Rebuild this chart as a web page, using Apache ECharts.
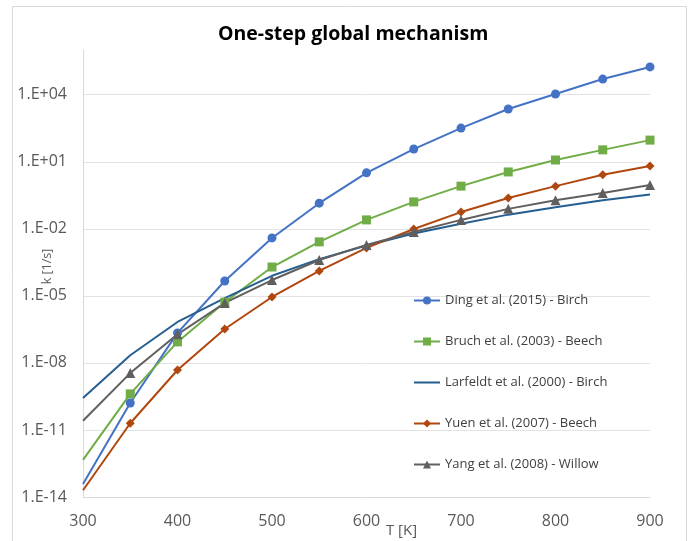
<!DOCTYPE html>
<html>
<head>
<meta charset="utf-8">
<script src="https://cdn.jsdelivr.net/npm/echarts@6/dist/echarts.min.js"></script>
<style>
html,body{margin:0;padding:0;background:#fff;}
#chart{width:692px;height:541px;}
</style>
</head>
<body>
<div id="chart"></div>
<script>
// Temperatures T [K]
var temps = [300, 350, 400, 450, 500, 550, 600, 650, 700, 750, 800, 850, 900];
// Rate constants k [1/s] (value at T=300 is where each curve enters the plot)
var ding     = [3.8e-14, 1.6e-10, 2.2e-7, 4.6e-5, 3.9e-3, 0.14, 3.2, 37, 320, 2300, 1.07e4, 5.0e4, 1.75e5];
var bruch    = [4.6e-13, 4.1e-10, 8.7e-8, 5.2e-6, 1.95e-4, 2.6e-3, 0.025, 0.16, 0.81, 3.5, 12, 34, 93];
var larfeldt = [2.7e-10, 2.2e-8, 6.8e-7, 7.9e-6, 7.9e-5, 4.4e-4, 1.8e-3, 6.2e-3, 0.017, 0.043, 0.093, 0.19, 0.34];
var yuen     = [2.0e-14, 2.0e-11, 4.8e-9, 3.3e-7, 8.9e-6, 1.3e-4, 1.4e-3, 9.8e-3, 0.056, 0.24, 0.81, 2.6, 6.5];
var yang     = [2.6e-11, 3.5e-9, 1.9e-7, 4.8e-6, 5.1e-5, 4.0e-4, 1.9e-3, 7.2e-3, 0.025, 0.078, 0.19, 0.40, 0.91];

var seriesNames = [
  'Ding et al. (2015) - Birch',
  'Bruch et al. (2003) - Beech',
  'Larfeldt et al. (2000) - Birch',
  'Yuen et al. (2007) - Beech',
  'Yang et al. (2008) - Willow'
];
var yTickExponents = [-14, -11, -8, -5, -2, 1, 4];

var FONT = '"Open Sans", sans-serif';

function pairs(vals) {
  return temps.map(function (t, i) {
    if (i === 0) return { value: [t, vals[i]], symbol: 'none' };
    return [t, vals[i]];
  });
}

function fmtExp(v) {
  var e = Math.round(Math.log10(v));
  if (yTickExponents.indexOf(e) < 0) return '';
  var s = e < 0 ? '-' : '+';
  var a = Math.abs(e);
  return '1.E' + s + (a < 10 ? '0' + a : '' + a);
}

var chart = echarts.init(document.getElementById('chart'), null, { renderer: 'canvas' });

function mk(name, vals, color, symbol, size) {
  return {
    name: name,
    type: 'line',
    data: pairs(vals),
    symbol: symbol,
    symbolSize: size,
    showSymbol: symbol !== 'none',
    clip: true,
    lineStyle: { color: color, width: 2 },
    itemStyle: { color: color },
    emphasis: { disabled: true }
  };
}

chart.setOption({
  animation: false,
  backgroundColor: '#ffffff',
  title: {
    text: 'One-step global mechanism',
    left: 213,
    top: 19,
    textStyle: { fontFamily: FONT, fontSize: 19.5, fontWeight: 'bold', color: '#000000' }
  },
  graphic: [{
    type: 'rect',
    shape: { x: 12.5, y: 6.5, width: 674, height: 545 },
    style: { fill: 'none', stroke: '#d9d9d9', lineWidth: 1 },
    silent: true
  }],
  grid: { left: 83, right: 42, top: 50, bottom: 44, containLabel: false, outerBoundsMode: 'none' },
  legend: {
    orient: 'vertical',
    left: 408,
    top: 289,
    itemWidth: 26,
    itemHeight: 10,
    itemGap: 28,
    textStyle: { fontFamily: FONT, fontSize: 13, color: '#404040' },
    data: [
      seriesNames[0],
      seriesNames[1],
      { name: seriesNames[2], itemStyle: { color: 'rgba(0,0,0,0)', borderWidth: 0 } },
      seriesNames[3],
      seriesNames[4]
    ]
  },
  xAxis: {
    type: 'value',
    min: 300,
    max: 900,
    interval: 100,
    name: 'T [K]',
    nameLocation: 'middle',
    nameGap: 26,
    nameMoveOverlap: false,
    nameTextStyle: { fontFamily: FONT, fontSize: 15, color: '#595959', padding: [0, 0, 0, 70] },
    axisLine: { show: true, lineStyle: { color: '#d9d9d9', width: 1 } },
    axisTick: { show: false },
    splitLine: { show: false },
    axisLabel: { fontFamily: FONT, fontSize: 16, color: '#595959', margin: 16 }
  },
  yAxis: {
    type: 'log',
    logBase: 10,
    min: 1e-14,
    max: 1e6,
    interval: 3,
    name: 'k [1/s]',
    nameLocation: 'middle',
    nameGap: 29,
    nameMoveOverlap: false,
    nameTextStyle: { fontFamily: FONT, fontSize: 12.5, color: '#595959', padding: [0, 0, 0, 14] },
    axisLine: { show: true, lineStyle: { color: '#d9d9d9', width: 1 } },
    axisTick: { show: false },
    splitLine: { show: true, showMaxLine: false, lineStyle: { color: '#e3e3e3', width: 1 } },
    axisLabel: { fontFamily: FONT, fontSize: 16, color: '#595959', margin: 16, showMaxLabel: false, formatter: fmtExp }
  },
  series: [
    mk(seriesNames[0], ding, '#4472C4', 'circle', 9),
    mk(seriesNames[1], bruch, '#70AD47', 'rect', 9),
    mk(seriesNames[2], larfeldt, '#255E91', 'none', 0),
    mk(seriesNames[3], yuen, '#B0470F', 'diamond', 9),
    mk(seriesNames[4], yang, '#5F5F5F', 'triangle', 10)
  ]
});
</script>
</body>
</html>
